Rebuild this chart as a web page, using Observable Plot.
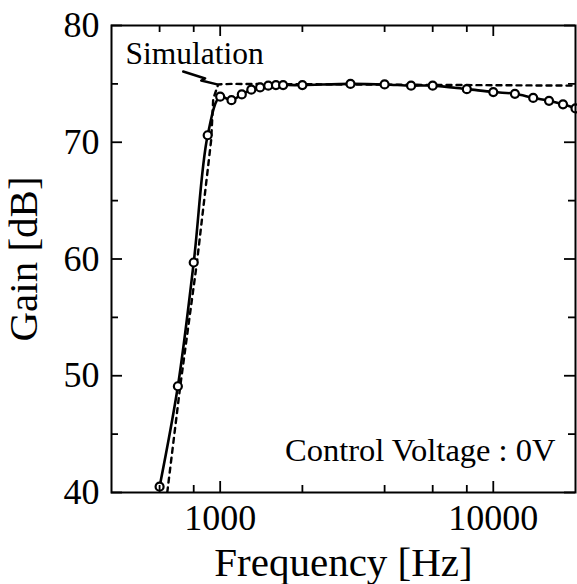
<!DOCTYPE html>
<html>
<head>
<meta charset="utf-8">
<script src="https://cdn.jsdelivr.net/npm/d3@7"></script>
<script src="https://cdn.jsdelivr.net/npm/@observablehq/plot@0.6"></script>
<style>
  html, body { margin: 0; padding: 0; background: white; }
</style>
</head>
<body>
<div id="chart"></div>
<script>
// Measured data (circles, solid line)
const measFreq = [600, 700, 800, 900, 1000, 1100, 1200, 1300, 1400, 1500, 1600, 1700, 2000, 3000, 4000, 5000, 6000, 8000, 10000, 12000, 14000, 16000, 18000, 20000];
const measGain = [40.5, 49.1, 59.7, 70.6, 73.9, 73.6, 74.1, 74.5, 74.7, 74.85, 74.9, 74.9, 74.9, 75.0, 74.95, 74.85, 74.85, 74.55, 74.3, 74.15, 73.8, 73.55, 73.25, 72.9];

// Simulation (dotted line)
const simFreq = [640, 714, 822, 927, 943, 983, 1100, 20000];
const simGain = [40, 49.1, 59.7, 70.2, 73.7, 74.95, 75.0, 74.85];

// Annotation leader ("Simulation" arrow), in data coordinates
const leaderFreq = [732, 881, 852, 975];
const leaderGain = [76.06, 75.46, 75.29, 74.95];

// Axis ticks
const xLabelTicks = [1000, 10000];
const xMinorTicks = [600, 800, 2000, 4000, 6000, 8000];
const yLabelTicks = [40, 50, 60, 70, 80];
const yMinorTicks = [45, 55, 65, 75];

const xTitle = "Frequency [Hz]";
const yTitle = "Gain [dB]";
const annotation = "Simulation";
const condition = "Control Voltage : 0V";

const meas = measFreq.map((f, i) => ({f, g: measGain[i]}));
const sim = simFreq.map((f, i) => ({f, g: simGain[i]}));
const leader = leaderFreq.map((f, i) => ({f, g: leaderGain[i]}));

const W = 577, H = 584;
const mL = 111, mR = 2, mT = 25, mB = 92;
const pw = W - mL - mR, ph = H - mT - mB;
const majorLen = 11, minorLen = 7;
const font = "'Liberation Serif', 'Times New Roman', Times, serif";

const chart = Plot.plot({
  width: W,
  height: H,
  marginLeft: mL,
  marginRight: mR,
  marginTop: mT,
  marginBottom: mB,
  x: {type: "log", domain: [400, 20000], axis: null},
  y: {domain: [40, 80], axis: null},
  style: {fontFamily: font, background: "white", color: "black"},
  marks: [
    // data
    Plot.line(sim, {x: "f", y: "g", stroke: "black", strokeWidth: 2.4, strokeDasharray: "5,5", curve: "linear", clip: true}),
    Plot.line(meas, {x: "f", y: "g", stroke: "black", strokeWidth: 2.6, curve: "catmull-rom", clip: true}),
    Plot.dot(meas, {x: "f", y: "g", r: 4, stroke: "black", strokeWidth: 2.2, fill: "white"}),
    Plot.line(leader, {x: "f", y: "g", stroke: "black", strokeWidth: 2.4, curve: "linear"}),

    // frame
    Plot.frame({stroke: "black", strokeWidth: 2}),

    // inward ticks: bottom / top
    Plot.tickX(xLabelTicks, {x: d => d, insetTop: ph - majorLen, strokeWidth: 1.8}),
    Plot.tickX(xLabelTicks, {x: d => d, insetBottom: ph - majorLen, strokeWidth: 1.8}),
    Plot.tickX(xMinorTicks, {x: d => d, insetTop: ph - minorLen, strokeWidth: 1.8}),
    Plot.tickX(xMinorTicks, {x: d => d, insetBottom: ph - minorLen, strokeWidth: 1.8}),
    // inward ticks: left / right
    Plot.tickY(yLabelTicks, {y: d => d, insetRight: pw - majorLen, strokeWidth: 1.8}),
    Plot.tickY(yLabelTicks, {y: d => d, insetLeft: pw - majorLen, strokeWidth: 1.8}),
    Plot.tickY(yMinorTicks, {y: d => d, insetRight: pw - minorLen, strokeWidth: 1.8}),
    Plot.tickY(yMinorTicks, {y: d => d, insetLeft: pw - minorLen, strokeWidth: 1.8}),

    // tick labels
    Plot.axisX(xLabelTicks, {anchor: "bottom", tickSize: 0, tickPadding: 12, fontSize: 36, tickFormat: d => String(d), label: null, fill: "black"}),
    Plot.axisY(yLabelTicks, {anchor: "left", tickSize: 0, tickPadding: 12, fontSize: 36, tickFormat: d => String(d), label: null, fill: "black"}),

    // axis titles
    Plot.text([xTitle], {frameAnchor: "bottom", textAnchor: "middle", lineAnchor: "bottom", dy: 83, fontSize: 41, fill: "black", text: d => d}),
    Plot.text([yTitle], {frameAnchor: "left", textAnchor: "middle", lineAnchor: "bottom", rotate: -90, dx: -75, fontSize: 41, fill: "black", text: d => d}),

    // annotations
    Plot.text([annotation], {frameAnchor: "top-left", textAnchor: "start", lineAnchor: "bottom", dx: 14, dy: 38, fontSize: 31.5, fill: "black", text: d => d}),
    Plot.text([condition], {frameAnchor: "bottom-right", textAnchor: "end", lineAnchor: "bottom", dx: -20, dy: -32, fontSize: 32.5, fill: "black", text: d => d})
  ]
});

document.getElementById("chart").appendChild(chart);
</script>
</body>
</html>
